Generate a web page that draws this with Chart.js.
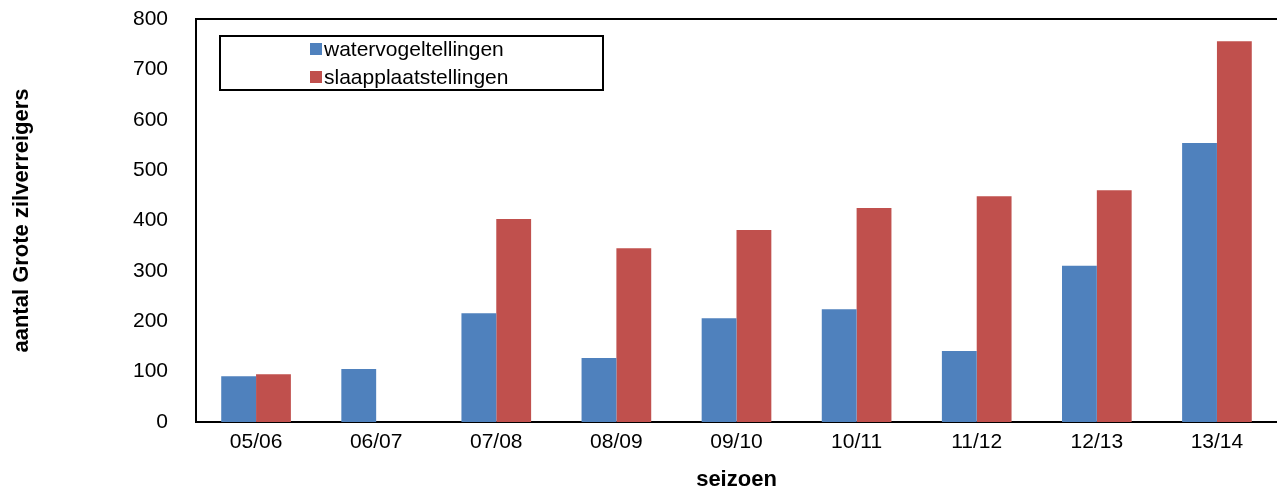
<!DOCTYPE html>
<html>
<head>
<meta charset="utf-8">
<script src="https://cdn.jsdelivr.net/npm/chart.js@4"></script>
<style>
  html, body { margin: 0; padding: 0; background: #fff; }
  #wrap { width: 1277px; height: 493px; }
</style>
</head>
<body>
<div id="wrap"><canvas id="reigerChart" width="1277" height="493"></canvas></div>
<script>
const seizoenen = ["05/06", "06/07", "07/08", "08/09", "09/10", "10/11", "11/12", "12/13", "13/14"];
const watervogeltellingen = [91, 105, 216, 127, 206, 224, 141, 310, 554];
const slaapplaatstellingen = [95, 0, 403, 345, 381, 425, 448, 460, 756];
const yTicks = [0, 100, 200, 300, 400, 500, 600, 700, 800];

// legende in een kader binnen het plotvlak + bovenrand
const kaderPlugin = {
    id: "kader",
    afterDraw(chart) {
        const ctx = chart.ctx;
        const area = chart.chartArea;
        ctx.save();
        ctx.strokeStyle = "#000";
        ctx.lineWidth = 2;
        ctx.beginPath();
        ctx.moveTo(area.left, area.top);
        ctx.lineTo(area.right, area.top);
        ctx.stroke();

        const bx = area.left + 24, by = area.top + 17, bw = 383, bh = 54;
        ctx.fillStyle = "#fff";
        ctx.fillRect(bx, by, bw, bh);
        ctx.strokeRect(bx, by, bw, bh);

        ctx.font = "21px 'Liberation Sans', Arial, sans-serif";
        ctx.textBaseline = "middle";
        chart.data.datasets.forEach((ds, i) => {
            const y = by + 13 + i * 28;
            ctx.fillStyle = ds.backgroundColor;
            ctx.fillRect(bx + 90, y - 6, 12, 12);
            ctx.fillStyle = "#000";
            ctx.fillText(ds.label, bx + 104, y + 1);
        });
        ctx.restore();
    }
};

document.addEventListener("DOMContentLoaded", function () {
    const ctx = document.getElementById("reigerChart").getContext("2d");
    new Chart(ctx, {
        type: "bar",
        data: {
            labels: seizoenen,
            datasets: [
                {
                    label: "watervogeltellingen",
                    data: watervogeltellingen,
                    backgroundColor: "#4F81BD",
                    borderWidth: 0
                },
                {
                    label: "slaapplaatstellingen",
                    data: slaapplaatstellingen,
                    backgroundColor: "#C0504D",
                    borderWidth: 0
                }
            ]
        },
        options: {
            responsive: false,
            animation: false,
            layout: { padding: { top: 19, right: 0, left: 0, bottom: 0 } },
            categoryPercentage: 0.58,
            barPercentage: 1,
            plugins: {
                legend: { display: false },
                tooltip: { enabled: false }
            },
            scales: {
                x: {
                    grid: { display: false },
                    border: { display: true, color: "#000", width: 2 },
                    ticks: {
                        color: "#000",
                        padding: 0,
                        font: { family: "'Liberation Sans', Arial, sans-serif", size: 21 }
                    },
                    title: {
                        display: true,
                        text: "seizoen",
                        color: "#000",
                        padding: { top: 4, bottom: 0 },
                        font: { family: "'Liberation Sans', Arial, sans-serif", size: 22, weight: "bold" }
                    },
                    afterFit(scale) {
                        scale.height = 71;
                        scale.paddingLeft = 0;
                        scale.paddingRight = 0;
                    }
                },
                y: {
                    min: 0,
                    max: 800,
                    grid: { display: false },
                    border: { display: true, color: "#000", width: 2 },
                    afterBuildTicks(scale) { scale.ticks = yTicks.map(v => ({ value: v })); },
                    ticks: {
                        color: "#000",
                        padding: 20,
                        font: { family: "'Liberation Sans', Arial, sans-serif", size: 21 }
                    },
                    title: {
                        display: true,
                        text: "aantal Grote zilverreigers",
                        color: "#000",
                        padding: { top: 9, bottom: 0 },
                        font: { family: "'Liberation Sans', Arial, sans-serif", size: 22, weight: "bold" }
                    },
                    afterFit(scale) {
                        scale.width = 196;
                        scale.paddingTop = 0;
                        scale.paddingBottom = 0;
                    }
                }
            }
        },
        plugins: [kaderPlugin]
    });
});
</script>
</body>
</html>
